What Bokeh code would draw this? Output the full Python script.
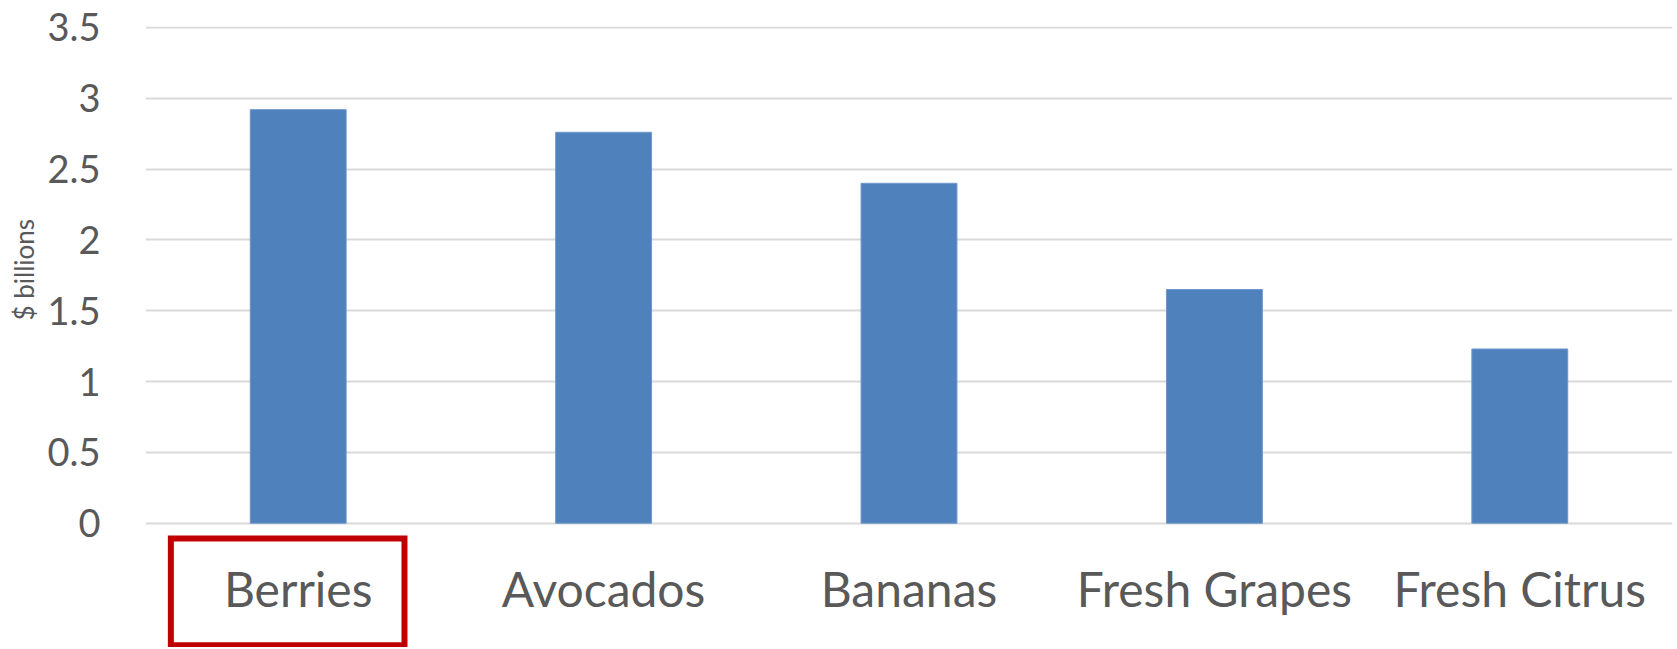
from bokeh.plotting import figure
from bokeh.models import FactorRange, Range1d, FixedTicker, CustomJSTickFormatter, BoxAnnotation, Title
from bokeh.embed import file_html
from bokeh.resources import INLINE

categories = ["Berries", "Avocados", "Bananas", "Fresh Grapes", "Fresh Citrus"]
values = [2.92, 2.76, 2.40, 1.65, 1.23]
y_ticks = [0, 0.5, 1, 1.5, 2, 2.5, 3, 3.5]
y_label = "$ billions"
highlighted = "Berries"

FONT = "Lato"
TEXT = "#595959"

p = figure(
    x_range=FactorRange(*categories, range_padding=0),
    y_range=Range1d(-0.8777, 3.507),
    width=1675, height=647,
    output_backend="svg", toolbar_location=None,
    min_border_left=141, min_border_right=3, min_border_top=26, min_border_bottom=0,
)
p.vbar(x=categories, top=values, width=0.314, color="#4F81BD", line_color="#6F97CC", line_width=1)

p.outline_line_color = None
p.xgrid.grid_line_color = None
p.ygrid.grid_line_color = "#D9D9D9"
p.ygrid.grid_line_width = 2

p.yaxis.ticker = FixedTicker(ticks=y_ticks)
p.yaxis.formatter = CustomJSTickFormatter(code="return String(tick);")
p.yaxis.axis_line_color = None
p.yaxis.major_tick_line_color = None
p.yaxis.minor_tick_line_color = None
p.yaxis.major_label_text_font = FONT
p.yaxis.major_label_text_font_size = "38px"
p.yaxis.major_label_text_color = TEXT
p.yaxis.major_label_standoff = 39

# y-axis caption, placed along the 0..3.5 span (the frame also holds the label strip below)
ytitle = Title(text=y_label, align="left", offset=327, standoff=10,
               text_font=FONT, text_font_size="26px", text_font_style="normal",
               text_color=TEXT)
p.add_layout(ytitle, "left")

p.xaxis.fixed_location = 0
p.xaxis.axis_line_color = None
p.xaxis.major_tick_line_color = None
p.xaxis.minor_tick_line_color = None
p.xaxis.major_label_text_font = FONT
p.xaxis.major_label_text_font_size = "48px"
p.xaxis.major_label_text_color = TEXT
p.xaxis.major_label_standoff = 31

# red highlight box around the first category label
i = categories.index(highlighted)
box = BoxAnnotation(left=i + 0.083, right=i + 0.848, top=-0.108, bottom=-0.862,
                    fill_alpha=0, line_color="#C00000", line_width=6, line_alpha=1,
                    line_join="miter")
p.add_layout(box)

open("out.html", "w").write(file_html(p, INLINE))
